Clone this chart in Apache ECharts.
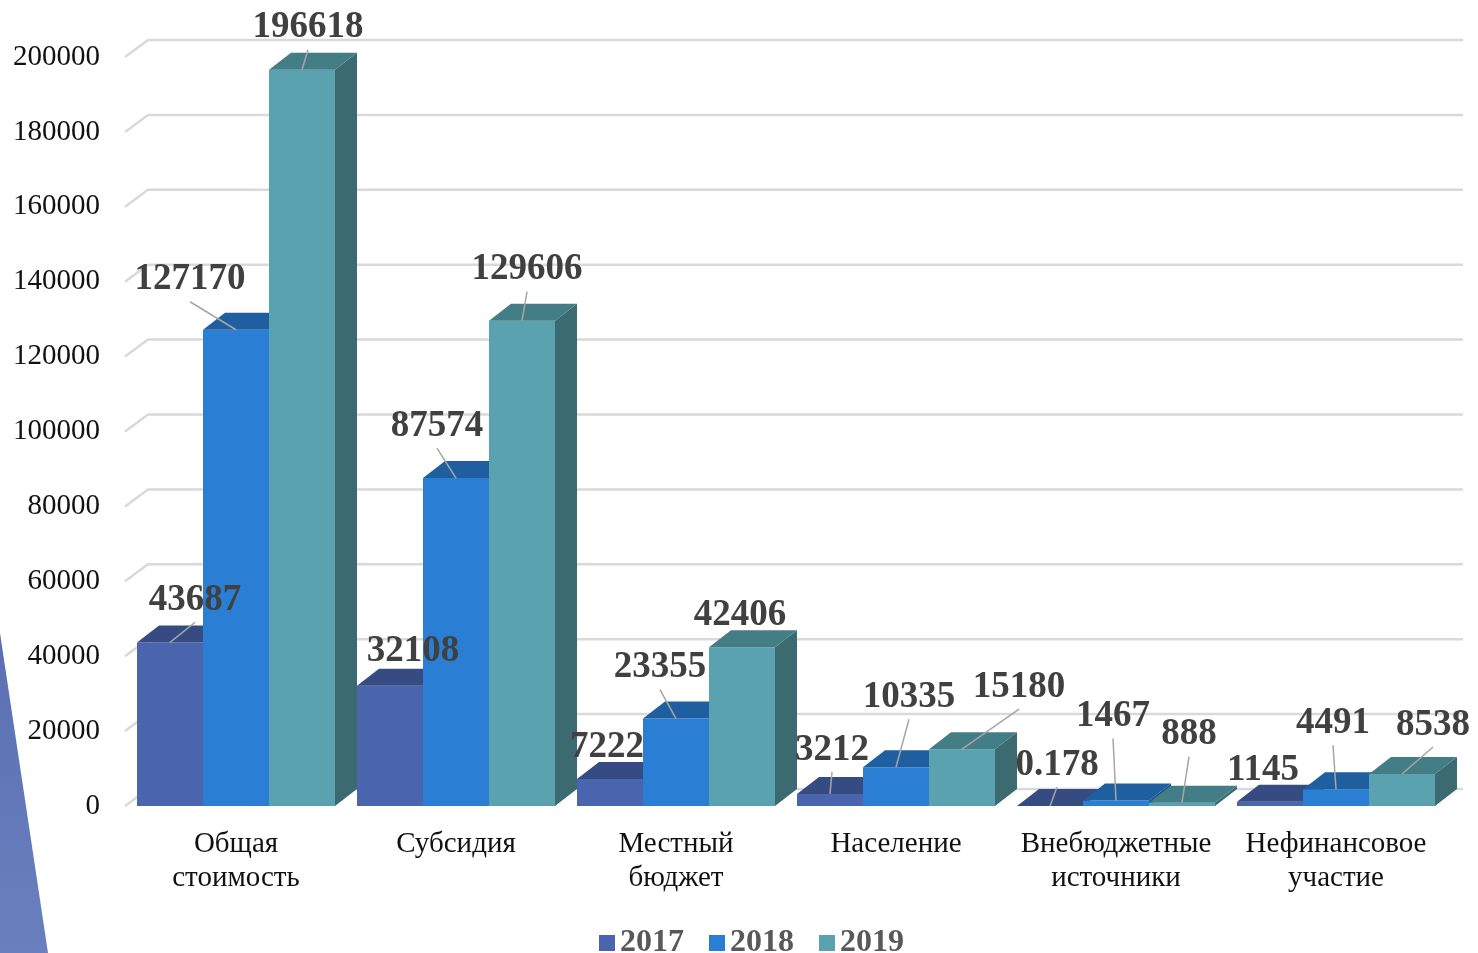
<!DOCTYPE html>
<html>
<head>
<meta charset="utf-8">
<script src="https://cdn.jsdelivr.net/npm/echarts@6/dist/echarts.min.js"></script>
<style>
  html, body { margin: 0; padding: 0; background: #fff; }
  #main { width: 1478px; height: 953px; }
</style>
</head>
<body>
<div id="main"></div>
<script>
// категории и значения
const categories = [
  'Общая\nстоимость', 'Субсидия', 'Местный\nбюджет',
  'Население', 'Внебюджетные\nисточники', 'Нефинансовое\nучастие'
];
const years = ['2017', '2018', '2019'];
const values2017 = [43687, 32108, 7222, 3212, 0.178, 1145];
const values2018 = [127170, 87574, 23355, 10335, 1467, 4491];
const values2019 = [196618, 129606, 42406, 15180, 888, 8538];
const yTicks = [0, 20000, 40000, 60000, 80000, 100000, 120000, 140000, 160000, 180000, 200000];

// сдвиг подписей относительно верха столбца (px)
const labelShift = [
  [[25, -42], [23, -34], [-3, -32], [2, -44], [7, -41], [-7, -31]],
  [[-46, -50], [-19, -52], [-16, -51], [13, -70], [-3, -84], [-3, -66]],
  [[6, -42], [5, -51], [-2, -32], [57, -62], [7, -68], [31, -49]]
];

// цвета: лицевая, верх, бок
const palette = [
  ['#4a64ad', '#354b82', '#2f4373'],
  ['#2a7fd4', '#1f5fa0', '#1c5690'],
  ['#5aa2b0', '#437e86', '#3b6a70']
];

const DX = 22, DY = -17;
const serif = '"Liberation Serif", "Times New Roman", serif';

let chart = echarts.init(document.getElementById('main'));

function barRenderer(s) {
  return function (params, api) {
    let cat = api.value(0);
    let val = api.value(1);
    let base = api.coord([cat, 0]);
    let top = api.coord([cat, val]);
    let band = api.size([1, 0])[0];
    let bw = band * 0.3;
    let x0 = base[0] + (s - 1.5) * bw;
    let x1 = x0 + bw;
    let yb = base[1];
    let yt = top[1];
    let c = palette[s];
    let zb = s * 10;
    let children = [
      {
        type: 'polygon', z2: zb + 1,
        shape: { points: [[x1, yt], [x1, yb], [x1 + DX, yb + DY], [x1 + DX, yt + DY]] },
        style: { fill: c[2] }
      },
      {
        type: 'rect', z2: zb + 2,
        shape: { x: x0, y: yt, width: bw, height: yb - yt },
        style: { fill: c[0] }
      },
      {
        type: 'polygon', z2: zb + 3,
        shape: { points: [[x0, yt], [x1, yt], [x1 + DX, yt + DY], [x0 + DX, yt + DY]] },
        style: { fill: c[1] }
      }
    ];
    let ax = x0 + bw / 2;
    let sh = labelShift[s][cat];
    let lx = ax + sh[0];
    let ly = yt + sh[1];
    if (sh[1] < -40) {
      children.push({
        type: 'line', z2: 200,
        shape: { x1: ax, y1: yt, x2: lx, y2: ly + 22 },
        style: { stroke: '#a6a6a6', lineWidth: 1.5 }
      });
    }
    children.push({
      type: 'text', z2: 300,
      x: lx, y: ly,
      style: {
        text: String(val),
        fill: '#404040',
        font: 'bold 37px ' + serif,
        align: 'center',
        verticalAlign: 'middle'
      }
    });
    return { type: 'group', children: children };
  };
}

function gridRenderer(params, api) {
  let y = api.coord([0, api.value(1)])[1];
  let left = params.coordSys.x;
  let right = params.coordSys.x + params.coordSys.width + 17;
  return {
    type: 'polyline',
    shape: { points: [[left - 1, y], [left + DX, y + DY], [right, y + DY]] },
    style: { stroke: '#d9d9d9', lineWidth: 2.5, fill: null }
  };
}

let seriesValues = [values2017, values2018, values2019];

let option = {
  backgroundColor: '#ffffff',
  animation: false,
  graphic: [{
    type: 'polygon',
    z: 0,
    shape: { points: [[0, 633], [0, 953], [48, 953]] },
    style: {
      fill: new echarts.graphic.LinearGradient(0, 0, 0, 1, [
        { offset: 0, color: '#5b6fb2' },
        { offset: 1, color: '#6a80be' }
      ])
    }
  }],
  grid: { left: 126, right: 32, top: 57, bottom: 147 },
  legend: {
    data: years,
    left: 594,
    top: 922,
    icon: 'rect',
    itemWidth: 16,
    itemHeight: 16,
    itemGap: 25,
    textStyle: {
      fontSize: 32,
      fontWeight: 'bold',
      color: '#595959',
      fontFamily: serif
    }
  },
  xAxis: {
    type: 'category',
    data: categories,
    axisLine: { show: false },
    axisTick: { show: false },
    axisLabel: {
      margin: 21,
      fontSize: 29,
      lineHeight: 34,
      color: '#111',
      fontFamily: serif,
      interval: 0
    }
  },
  yAxis: {
    type: 'value',
    min: 0,
    max: 200000,
    interval: 20000,
    axisLine: { show: false },
    axisTick: { show: false },
    splitLine: { show: false },
    axisLabel: {
      margin: 26,
      fontSize: 29,
      color: '#111',
      fontFamily: serif,
      formatter: v => String(v)
    }
  },
  series: [{
    name: 'grid',
    type: 'custom',
    z: 1,
    silent: true,
    clip: false,
    renderItem: gridRenderer,
    data: yTicks.map(v => [0, v])
  }].concat(years.map((y, s) => ({
    name: y,
    type: 'custom',
    z: 2,
    clip: false,
    itemStyle: { color: palette[s][0] },
    renderItem: barRenderer(s),
    data: seriesValues[s].map((v, i) => [i, v])
  })))
};

chart.setOption(option);
</script>
</body>
</html>
